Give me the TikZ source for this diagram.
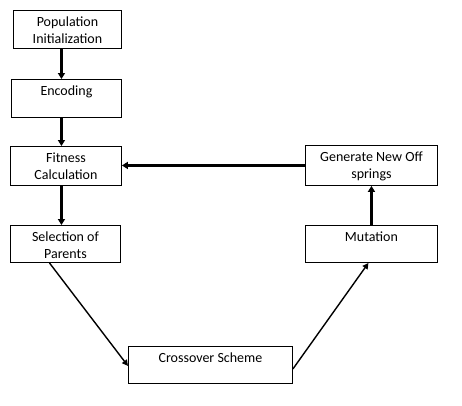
\documentclass[tikz,border=0pt]{standalone}
\usepackage{fontspec}
\setmainfont{Carlito}
\usetikzlibrary{positioning,arrows.meta}

\begin{document}
\begin{tikzpicture}[x=1pt,y=-1pt,
  box/.style={draw,line width=0.9pt,inner sep=0pt,anchor=north west,fill=white},
  txt/.style={anchor=north,align=center,inner sep=0pt,yshift=-6.5pt,
    font=\fontsize{14pt}{17pt}\selectfont},
  ar/.style={-{Triangle[length=6pt,width=7pt]},line width=2.2pt},
  dar/.style={-{Triangle[length=6pt,width=6pt]},line width=1.4pt}]
  \useasboundingbox (0,0) rectangle (462,405);
  % left column
  \node[box,minimum width=108pt,minimum height=38pt,
    label={[txt]north:{Population\\Initialization}}] (init) at (13,10) {};
  \node[box,minimum width=110pt,minimum height=38pt,
    label={[txt]north:Encoding}] (enc) at (11,79) {};
  \node[box,minimum width=111pt,minimum height=39pt,
    label={[txt]north:{Fitness\\Calculation}}] (fit) at (10,146) {};
  \node[box,minimum width=110pt,minimum height=37pt,
    label={[txt]north:{Selection of\\Parents}}] (sel) at (10,225) {};
  % bottom
  \node[box,minimum width=164pt,minimum height=37pt,
    label={[txt]north:Crossover Scheme}] (cross) at (128,346) {};
  % right column
  \node[box,minimum width=132pt,minimum height=37pt,
    label={[txt]north:Mutation}] (mut) at (305,225) {};
  \node[box,minimum width=132pt,minimum height=40pt,
    label={[txt]north:{Generate New Off\\springs}}] (gen) at (305,145) {};
  % arrows
  \draw[ar] ([xshift=-6pt]init.south) -- ([xshift=-6pt]init.south |- enc.north);
  \draw[ar] ([xshift=-5pt]enc.south) -- ([xshift=-5pt]enc.south |- fit.north);
  \draw[ar] ([xshift=-4.5pt]fit.south) -- ([xshift=-4.5pt]fit.south |- sel.north);
  \draw[dar] ([xshift=-16pt]sel.south) -- ([yshift=-1pt]cross.west);
  \draw[dar] ([yshift=-4pt]cross.east) -- ([xshift=-3pt]mut.south);
  \draw[ar] (mut.north) -- (gen.south);
  \draw[ar] (gen.west) -- (gen.west -| fit.east);
\end{tikzpicture}
\end{document}
